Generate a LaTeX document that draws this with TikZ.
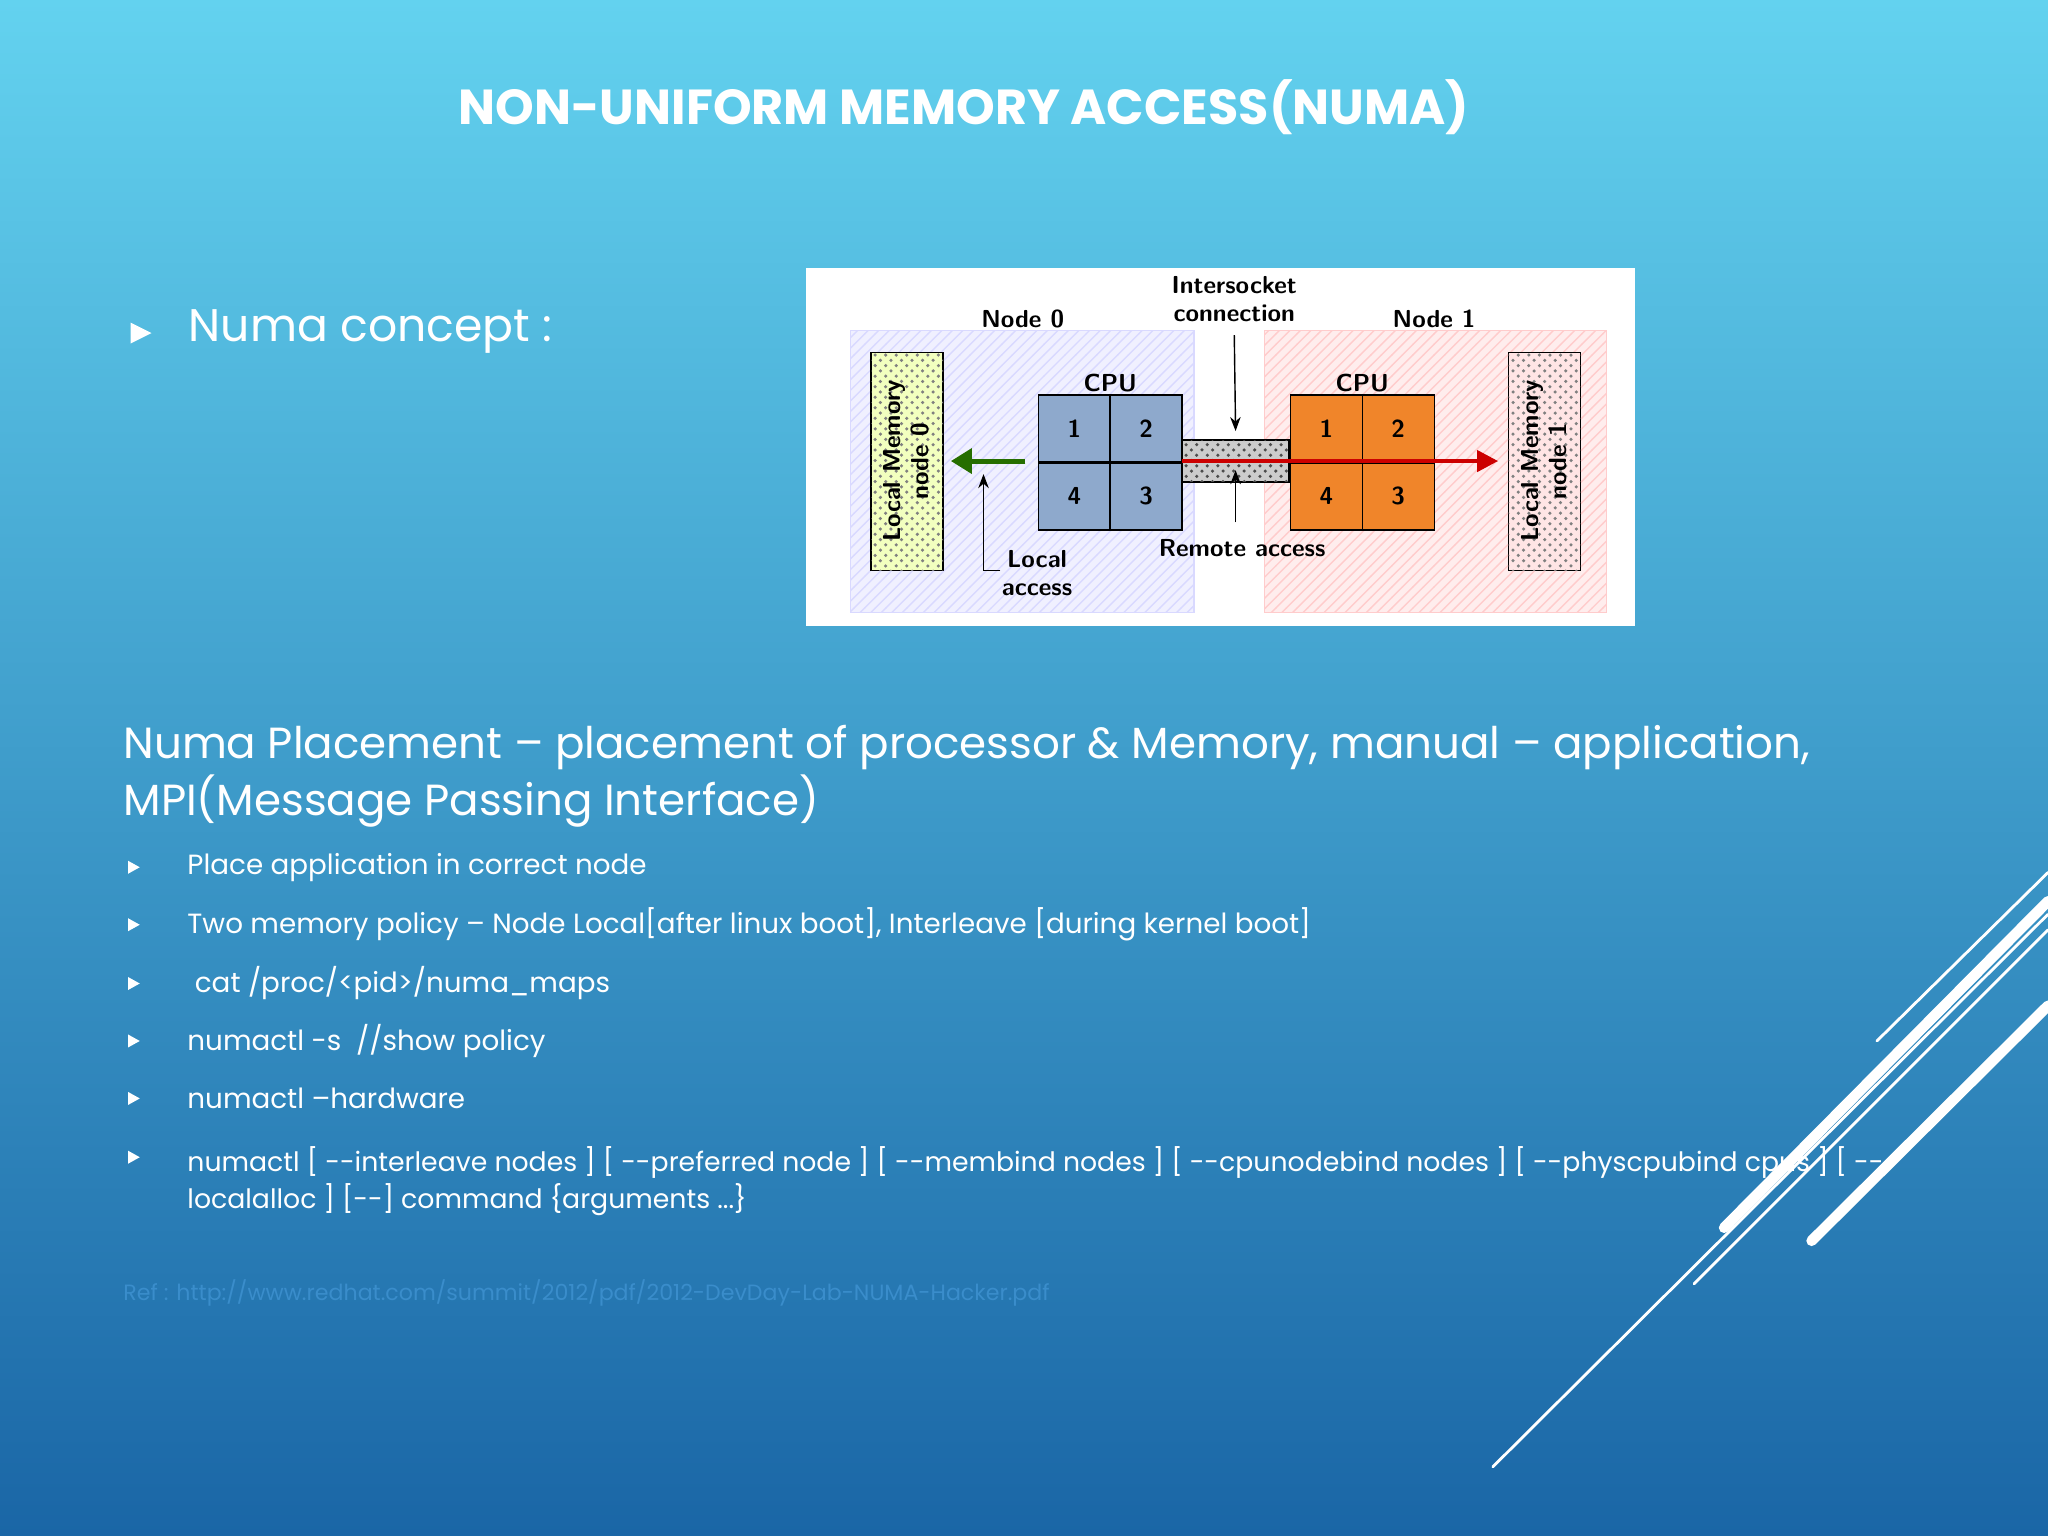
\documentclass[tikz,border=0pt]{standalone}
\usepackage{fontspec}
\setmainfont{Poppins}
\usetikzlibrary{patterns, arrows.meta}
\definecolor{bgtop}{HTML}{63D2EF}
\definecolor{bgmid}{HTML}{3C9FD4}
\definecolor{bgbot}{HTML}{1A66A6}
\definecolor{cpublue}{HTML}{8EA9CC}
\definecolor{cpuorange}{HTML}{F0852A}
\definecolor{refblue}{HTML}{3A8DCB}
\tikzset{
  slidetext/.style={text=white, anchor=west, inner sep=0pt},
  bullet/.style={fill=white, draw=none},
  cell/.style={draw=black, minimum width=0.72cm, minimum height=0.67cm, inner sep=0pt, font=\sffamily\bfseries\scriptsize},
  dlabel/.style={font=\sffamily\bfseries\scriptsize, inner sep=1pt, align=center},
  deco/.style={white, line cap=round}
}
\begin{document}
\begin{tikzpicture}[x=0.01306cm, y=-0.01306cm]
\useasboundingbox (0,0) rectangle (1568,1176);
% Background
\shade[top color=bgtop, middle color=bgmid, bottom color=bgbot] (0,0) rectangle (1568,1176);

% Title
\node[text=white, font=\bfseries\fontsize{14}{17}\selectfont] (title) at (738,82) {NON-UNIFORM MEMORY ACCESS(NUMA)};

% Numa concept
\fill[bullet] (100,247) -- (116,255) -- (100,263) -- cycle;
\node[slidetext, font=\fontsize{13}{16}\selectfont] (concept) at (144,254) {Numa concept :};

% Diagram panel
\fill[white] (617,205) rectangle (1252,479);
\draw[blue!15, fill=blue!6] (651,253) rectangle (914,469);
\fill[pattern=north east lines, pattern color=blue!15] (651,253) rectangle (914,469);
\draw[red!20, fill=red!7] (968,253) rectangle (1230,469);
\fill[pattern=north east lines, pattern color=red!20] (968,253) rectangle (1230,469);
\node[dlabel] (n0) at (783,244) {Node 0};
\node[dlabel] (n1) at (1098,244) {Node 1};
\node[dlabel] (inter) at (945,229) {Intersocket\\connection};

% Local memories
\draw[fill=green!20!yellow!25] (667,270) rectangle (722,437);
\fill[pattern=crosshatch dots, pattern color=gray] (667,270) rectangle (722,437);
\node[dlabel, rotate=90] (mem0) at (694,353) {Local Memory\\node 0};
\draw[fill=red!10] (1155,270) rectangle (1210,437);
\fill[pattern=crosshatch dots, pattern color=gray] (1155,270) rectangle (1210,437);
\node[dlabel, rotate=90] (mem1) at (1182,353) {Local Memory\\node 1};

% Intersocket link
\draw[fill=gray!40] (905,337) rectangle (987,369);
\fill[pattern=crosshatch dots, pattern color=black!70] (905,337) rectangle (987,369);

% CPUs
\foreach \side/\cx/\col in {a/850/cpublue, b/1043/cpuorange} {
  \node[cell, fill=\col] (\side1) at (\cx-27.5,328) {1};
  \node[cell, fill=\col] (\side2) at (\cx+27.5,328) {2};
  \node[cell, fill=\col] (\side4) at (\cx-27.5,380) {4};
  \node[cell, fill=\col] (\side3) at (\cx+27.5,380) {3};
  \node[dlabel] at (\cx,293) {CPU};
}

% Arrows
\draw[-{Triangle[width=7pt,length=6pt]}, line width=1.4pt, green!40!black!70!olive] (785,353) -- (728,353);
\draw[-{Triangle[width=6pt,length=6pt]}, line width=1.2pt, red!80!black] (905,353) -- (1147,353);
\draw[-{Stealth[length=4pt]}] (inter.south) ++(0,7) coordinate (ia) -- (946,330);
\draw[-{Stealth[length=4pt]}] (946,400) -- (946,360);
\draw[-{Stealth[length=4pt]}] (766,437) -- (753,437) -- (753,363);
\node[dlabel] (local) at (794,439) {Local\\access};
\node[dlabel] (remote) at (951,420) {Remote access};

% Placement text
\node[slidetext, font=\fontsize{12.4}{16}\selectfont, align=left, anchor=north west] (place) at (94,555)
  {Numa Placement -- placement of processor \& Memory, manual -- application,\\MPI(Message Passing Interface)};

\foreach \y/\txt in {664/{Place application in correct node},
  708/{Two memory policy -- Node Local[after linux boot], Interleave [during kernel boot]},
  753/{\ cat /proc/<pid>/numa\_maps},
  797/{numactl -s \ //show policy},
  841/{numactl --hardware}} {
  \fill[bullet] (98,\y-5) -- (107,\y) -- (98,\y+5) -- cycle;
  \node[slidetext, font=\fontsize{7.9}{10}\selectfont] at (143,\y) {\txt};
}
\fill[bullet] (98,881) -- (107,886) -- (98,891) -- cycle;
\node[slidetext, font=\fontsize{7.6}{10.5}\selectfont, align=left, anchor=north west] (cmd) at (143,877)
  {numactl [ -{}-interleave nodes ] [ -{}-preferred node ] [ -{}-membind nodes ] [ -{}-cpunodebind nodes ] [ -{}-physcpubind cpus ] [ -{}-\\localalloc ] [-{}-] command \{arguments ...\}};

% Reference
\node[slidetext, text=refblue, font=\fontsize{6.3}{8}\selectfont] (ref) at (94,990)
  {Ref : http://www.redhat.com/summit/2012/pdf/2012-DevDay-Lab-NUMA-Hacker.pdf};

% Decorative lines
\draw[deco, line width=0.8pt] (1437,797) -- (1568,668);
\draw[deco, line width=3pt] (1320,940) -- (1568,690);
\draw[deco, line width=0.8pt] (1297,983) -- (1568,712);
\draw[deco, line width=3pt] (1387,950) -- (1568,770);
\draw[deco, line width=0.8pt] (1143,1123) -- (1568,700);
\end{tikzpicture}
\end{document}
